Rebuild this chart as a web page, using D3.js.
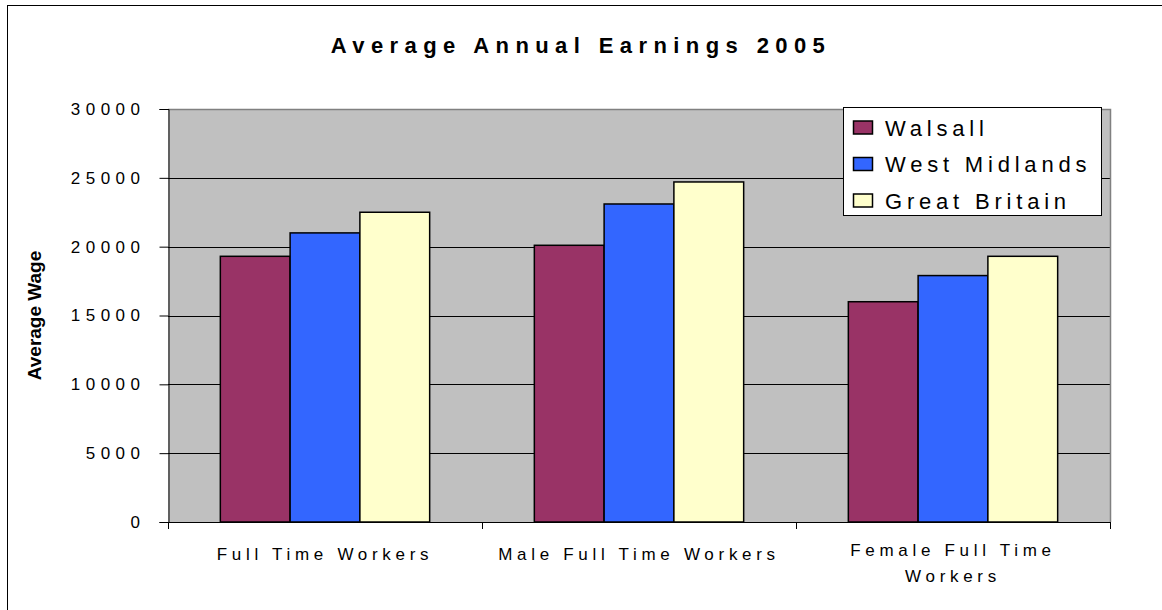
<!DOCTYPE html>
<html>
<head>
<meta charset="utf-8">
<script src="https://cdn.jsdelivr.net/npm/d3@7"></script>
<style>
  html, body { margin: 0; padding: 0; background: #fff; }
  svg { display: block; font-family: "Liberation Sans", Arial, sans-serif; }
</style>
</head>
<body>
<svg id="chart" width="1162" height="610"></svg>
<script>
// Average annual earnings, 2005
const categories = ["Full Time Workers", "Male Full Time Workers", "Female Full Time Workers"];
const seriesNames = ["Walsall", "West Midlands", "Great Britain"];
const walsall      = [19300, 20100, 16000];
const westMidlands = [21000, 23100, 17900];
const greatBritain = [22500, 24700, 19300];
const yTicks = [0, 5000, 10000, 15000, 20000, 25000, 30000];
const seriesColors = ["#993366", "#3366FF", "#FFFFCC"];

const seriesValues = [walsall, westMidlands, greatBritain];
const rows = categories.map((c, i) => ({
  category: c,
  values: seriesNames.map((s, j) => ({ series: s, value: seriesValues[j][i] }))
}));

const svg = d3.select("#chart");
const plot = { left: 168, right: 1110, top: 109, bottom: 522 };

// Outer chart frame
svg.append("rect")
  .attr("x", 7.5).attr("y", 5.5)
  .attr("width", 1300).attr("height", 800)
  .attr("fill", "#fff").attr("stroke", "#000").attr("stroke-width", 1);

const x0 = d3.scaleBand().domain(categories).range([plot.left, plot.right]).padding(0);
const x1 = d3.scaleBand().domain(seriesNames).range([0, x0.bandwidth()])
  .paddingInner(0).paddingOuter(0.75);
const y = d3.scaleLinear().domain([0, 30000]).range([plot.bottom, plot.top]);
const color = d3.scaleOrdinal().domain(seriesNames).range(seriesColors);

// Plot area
svg.append("rect")
  .attr("x", plot.left).attr("y", plot.top)
  .attr("width", plot.right - plot.left).attr("height", plot.bottom - plot.top)
  .attr("fill", "#C0C0C0");

// Horizontal gridlines
svg.append("g").selectAll("line")
  .data(yTicks.filter(t => t > 0 && t < 30000))
  .join("line")
  .attr("x1", plot.left).attr("x2", plot.right)
  .attr("y1", d => Math.round(y(d)) + 0.5).attr("y2", d => Math.round(y(d)) + 0.5)
  .attr("stroke", "#000").attr("stroke-width", 1);

// Plot area border (top and right)
svg.append("path")
  .attr("d", `M${plot.left},${plot.top + 0.5}H${plot.right + 0.5}V${plot.bottom}`)
  .attr("fill", "none").attr("stroke", "#808080").attr("stroke-width", 1.5);

// Bars
const groups = svg.append("g").selectAll("g")
  .data(rows)
  .join("g")
  .attr("transform", d => `translate(${x0(d.category)},0)`);

groups.selectAll("rect")
  .data(d => d.values)
  .join("rect")
  .attr("x", d => x1(d.series))
  .attr("y", d => y(d.value))
  .attr("width", x1.bandwidth())
  .attr("height", d => y(0) - y(d.value))
  .attr("fill", d => color(d.series))
  .attr("stroke", "#000").attr("stroke-width", 1.5);

// Y axis
const yAxis = svg.append("g")
  .attr("transform", `translate(${plot.left + 0.5},0)`)
  .call(d3.axisLeft(y).tickValues(yTicks).tickSize(9).tickPadding(14).tickFormat(d3.format("d")));
yAxis.select(".domain").attr("stroke", "#000");
yAxis.selectAll(".tick line").attr("stroke", "#000");
yAxis.selectAll(".tick text")
  .attr("font-size", 17).attr("fill", "#000")
  .attr("letter-spacing", "5.5px")
  .attr("font-family", "Liberation Sans, Arial, sans-serif");

// X axis: line, category boundary ticks, labels
svg.append("line")
  .attr("x1", plot.left).attr("x2", plot.right + 0.5)
  .attr("y1", plot.bottom + 0.5).attr("y2", plot.bottom + 0.5)
  .attr("stroke", "#000");

const boundaries = categories.map(c => x0(c)).concat([x0(categories[categories.length - 1]) + x0.bandwidth()]);
svg.append("g").selectAll("line")
  .data(boundaries)
  .join("line")
  .attr("x1", d => Math.round(d) + 0.5).attr("x2", d => Math.round(d) + 0.5)
  .attr("y1", plot.bottom).attr("y2", plot.bottom + 7)
  .attr("stroke", "#000");

const xLabels = svg.append("g")
  .attr("font-size", 17).attr("letter-spacing", "4.7px").attr("fill", "#000");

categories.forEach(c => {
  const cx = x0(c) + x0.bandwidth() / 2;
  const t = xLabels.append("text")
    .attr("x", cx).attr("text-anchor", "middle");
  // wrap into lines that fit within the category band
  const words = c.split(" ");
  let lines = [], line = [];
  const probe = xLabels.append("text").attr("visibility", "hidden");
  words.forEach(w => {
    const test = line.concat([w]).join(" ");
    probe.text(test);
    if (probe.node().getComputedTextLength() > x0.bandwidth() - 20 && line.length) {
      lines.push(line.join(" "));
      line = [w];
    } else {
      line.push(w);
    }
  });
  lines.push(line.join(" "));
  probe.remove();
  t.attr("y", lines.length > 1 ? 556 : 560);
  lines.forEach((l, i) => {
    t.append("tspan").attr("x", cx).attr("dy", i === 0 ? 0 : 26).text(l);
  });
});

// Y axis title
svg.append("text")
  .attr("transform", `translate(41,${(plot.top + plot.bottom) / 2}) rotate(-90)`)
  .attr("text-anchor", "middle")
  .attr("font-size", 19).attr("font-weight", "bold")
  .text("Average Wage");

// Chart title
svg.append("text")
  .attr("x", 581).attr("y", 53)
  .attr("text-anchor", "middle")
  .attr("font-size", 22).attr("font-weight", "bold")
  .attr("letter-spacing", "6.4px")
  .text("Average Annual Earnings 2005");

// Legend
const legend = svg.append("g");
legend.append("rect")
  .attr("x", 843.5).attr("y", 107.5).attr("width", 258).attr("height", 108)
  .attr("fill", "#fff").attr("stroke", "#000");
const rowY = d3.scalePoint().domain(seriesNames).range([127.5, 200.5]);
const items = legend.selectAll("g.item")
  .data(seriesNames)
  .join("g").attr("class", "item")
  .attr("transform", d => `translate(0,${rowY(d)})`);
items.append("rect")
  .attr("x", 853.5).attr("y", -6.5).attr("width", 19).attr("height", 13)
  .attr("fill", d => color(d)).attr("stroke", "#000").attr("stroke-width", 1.5);
items.append("text")
  .attr("x", 885).attr("y", 8)
  .attr("font-size", 22).attr("letter-spacing", "4.8px")
  .text(d => d);
</script>
</body>
</html>
